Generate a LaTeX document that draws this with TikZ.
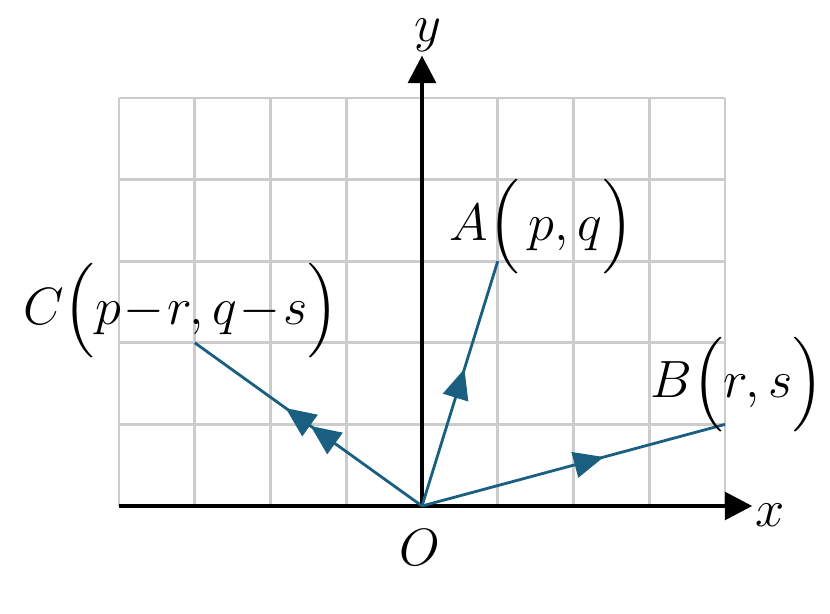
\documentclass[tikz,border=0pt]{standalone}
\usepackage{amsmath}
\usetikzlibrary{arrows.meta,decorations.markings}
\definecolor{vecblue}{RGB}{26,95,128}
\tikzset{
	axis/.style={line width=2.6pt,-{Triangle[length=0.55cm,width=0.55cm]}},
	vec/.style={vecblue,line width=1.6pt,postaction={decorate}},
	tipat/.style={decoration={markings,mark=at position #1 with {\arrow{Triangle[length=0.6cm,width=0.52cm]}}}},
	twotips/.style 2 args={decoration={markings,
		mark=at position #1 with {\arrow{Triangle[length=0.6cm,width=0.52cm]}},
		mark=at position #2 with {\arrow{Triangle[length=0.6cm,width=0.52cm]}}}},
	lbl/.style={scale=1.2},
}
\begin{document}
\begin{tikzpicture}[x=1.515cm,y=1.632cm,font=\Huge]
	\useasboundingbox (-8.44cm,-2.16cm) rectangle (8.16cm,10.12cm);
	\draw[gray!40,line width=1.5pt,xstep=1.515cm,ystep=1.632cm] (-4,0) grid (4,5);
	\coordinate (O) at (0,0);
	\coordinate (xstart) at (-4,0);
	\coordinate (xend) at (4.36,0);
	\coordinate (yend) at (0,5.52);
	\coordinate (A) at (1,3);
	\coordinate (B) at (4,1);
	\coordinate (C) at (-3,2);
	\draw[axis] (xstart) -- (xend);
	\draw[axis] (O) -- (yend);
	\draw[vec,tipat=0.56] (O) -- (A);
	\draw[vec,tipat=0.6] (O) -- (B);
	\draw[vec,twotips={0.49}{0.6}] (O) -- (C);
	\node[lbl] (xlab) at (4.59,-0.11) {$x$};
	\node[lbl] (ylab) at (0.08,5.77) {$y$};
	\node[lbl] (Olab) at (-0.03,-0.51) {$O$};
	\node[lbl] (Alab) at (1.58,3.42) {$A\Bigl(\,p,q\Bigr)$};
	\node[lbl] (Blab) at (4.16,1.49) {$B\Bigl(r,s\Bigr)$};
	\node[lbl] (Clab) at (-3.18,2.39) {$C\Bigl(p\!-\!r,q\!-\!s\Bigr)$};
\end{tikzpicture}
\end{document}
